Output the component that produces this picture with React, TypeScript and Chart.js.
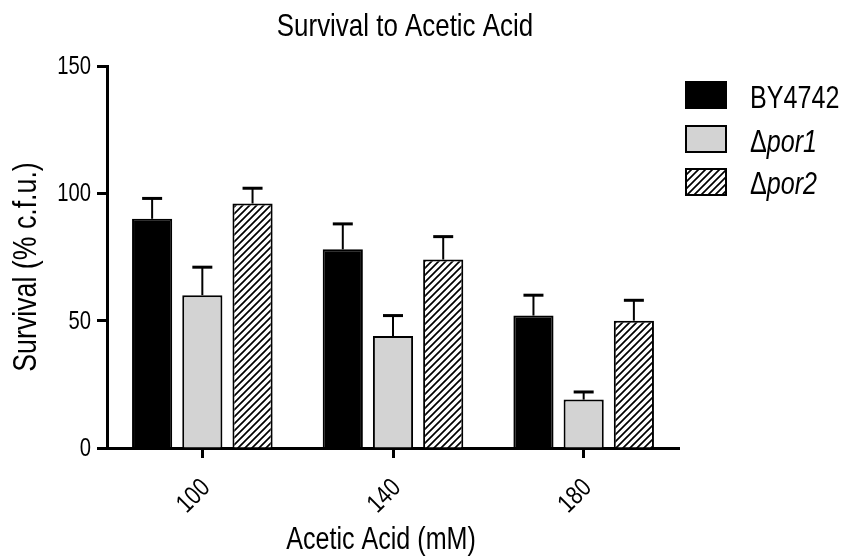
import React, { useEffect, useRef } from 'react';
import { Chart, registerables } from 'chart.js';
Chart.register(...registerables);

const categories = ['100', '140', '180'];
const seriesNames = ['BY4742', 'por1', 'por2'];
const by4742 = [90, 78, 52];
const by4742Err = [8, 10, 8];
const por1 = [60, 44, 19];
const por1Err = [11, 8, 3];
const por2 = [96, 74, 50];
const por2Err = [6, 9, 8];
const yTicks = [0, 50, 100, 150];
const chartTitle = 'Survival to Acetic Acid';
const xTitle = 'Acetic Acid (mM)';
const yTitle = 'Survival (% c.f.u.)';

const FONT = "'Liberation Sans', Arial, Helvetica, sans-serif";
const SQUEEZE = 0.81;

function makeHatch(size: number, lw: number): CanvasPattern | string {
  const c = document.createElement('canvas');
  c.width = size;
  c.height = size;
  const g = c.getContext('2d');
  if (!g) return '#fff';
  g.fillStyle = '#fff';
  g.fillRect(0, 0, size, size);
  g.strokeStyle = '#000';
  g.lineWidth = lw;
  g.beginPath();
  g.moveTo(0, size);
  g.lineTo(size, 0);
  g.moveTo(-2, 2);
  g.lineTo(2, -2);
  g.moveTo(size - 2, size + 2);
  g.lineTo(size + 2, size - 2);
  g.stroke();
  const p = g.createPattern(c, 'repeat');
  return p || '#fff';
}

function narrowText(
  ctx: CanvasRenderingContext2D,
  text: string,
  x: number,
  y: number,
  size: number,
  align: CanvasTextAlign,
  baseline: CanvasTextBaseline,
  angle = 0,
  italic = false
) {
  ctx.save();
  ctx.translate(x, y);
  if (angle) ctx.rotate(angle);
  ctx.scale(SQUEEZE, 1);
  ctx.font = `${italic ? 'italic ' : ''}${size}px ${FONT}`;
  ctx.textAlign = align;
  ctx.textBaseline = baseline;
  ctx.fillStyle = '#000';
  ctx.fillText(text, 0, 0);
  const w = ctx.measureText(text).width * SQUEEZE;
  ctx.restore();
  return w;
}

export default function App() {
  const ref = useRef<HTMLCanvasElement>(null);
  useEffect(() => {
    if (!ref.current) return;
    const hatch = makeHatch(7, 1.7);
    const errs = [by4742Err, por1Err, por2Err];
    const fills: any[] = ['#000000', '#d3d3d3', hatch];

    const errorBars = {
      id: 'errorBars',
      afterDatasetsDraw(chart: any) {
        const ctx = chart.ctx;
        const ys = chart.scales.y;
        chart.data.datasets.forEach((ds: any, i: number) => {
          const meta = chart.getDatasetMeta(i);
          meta.data.forEach((bar: any, j: number) => {
            const v = ds.data[j] as number;
            const top = ys.getPixelForValue(v + errs[i][j]);
            ctx.save();
            ctx.strokeStyle = '#000';
            ctx.lineWidth = 2;
            ctx.beginPath();
            ctx.moveTo(bar.x, bar.y);
            ctx.lineTo(bar.x, top);
            ctx.stroke();
            ctx.lineWidth = 3;
            ctx.beginPath();
            ctx.moveTo(bar.x - 10, top);
            ctx.lineTo(bar.x + 10, top);
            ctx.stroke();
            ctx.restore();
          });
        });
      },
    };

    const texts = {
      id: 'texts',
      afterDraw(chart: any) {
        const ctx = chart.ctx as CanvasRenderingContext2D;
        const xs = chart.scales.x;
        const ys = chart.scales.y;
        const area = chart.chartArea;
        narrowText(ctx, chartTitle, 405, 36, 32, 'center', 'alphabetic');
        yTicks.forEach((v) => {
          narrowText(ctx, String(v), area.left - 16, ys.getPixelForValue(v) + 1, 25, 'right', 'middle');
        });
        categories.forEach((c, i) => {
          narrowText(ctx, c, xs.getPixelForValue(i) + 4, area.bottom + 36, 26, 'right', 'middle', -Math.PI / 4);
        });
        narrowText(ctx, xTitle, 381, 549, 31, 'center', 'alphabetic');
        narrowText(ctx, yTitle, 36, 267, 33, 'center', 'alphabetic', -Math.PI / 2);
        const boxX = 686;
        const tops = [82, 126, 169];
        const baselines = [108, 152, 194];
        tops.forEach((t, i) => {
          ctx.save();
          ctx.fillStyle = fills[i];
          ctx.fillRect(boxX, t, 40, 26);
          ctx.strokeStyle = '#000';
          ctx.lineWidth = 2;
          ctx.strokeRect(boxX, t, 40, 26);
          ctx.restore();
          if (i === 0) {
            narrowText(ctx, seriesNames[i], 750, baselines[i], 31, 'left', 'alphabetic');
          } else {
            const w = narrowText(ctx, '\u0394', 750, baselines[i], 31, 'left', 'alphabetic');
            narrowText(ctx, seriesNames[i], 750 + w, baselines[i], 31, 'left', 'alphabetic', 0, true);
          }
        });
      },
    };

    const chart = new Chart(ref.current, {
      type: 'bar',
      data: {
        labels: categories,
        datasets: [
          { label: seriesNames[0], data: by4742, backgroundColor: fills[0], borderColor: '#000', borderWidth: 2 },
          { label: seriesNames[1], data: por1, backgroundColor: fills[1], borderColor: '#000', borderWidth: 2 },
          { label: seriesNames[2], data: por2, backgroundColor: fills[2], borderColor: '#000', borderWidth: 2 },
        ],
      },
      options: {
        responsive: false,
        animation: false,
        layout: { padding: { top: 66, right: 167, left: 0, bottom: 0 } },
        datasets: { bar: { categoryPercentage: 0.79, barPercentage: 0.8 } },
        plugins: { legend: { display: false }, title: { display: false }, tooltip: { enabled: false } },
        scales: {
          x: {
            afterFit: (s: any) => { s.height = 110; },
            border: { display: true, width: 3, color: '#000' },
            grid: { display: true, offset: false, drawOnChartArea: false, drawTicks: true, tickLength: 10, tickWidth: 3, tickColor: '#000', color: '#000' },
            ticks: { display: false },
            title: { display: false },
          },
          y: {
            min: 0,
            max: 150,
            afterFit: (s: any) => { s.width = 107; },
            afterBuildTicks: (s: any) => { s.ticks = yTicks.map((v) => ({ value: v })); },
            border: { display: true, width: 3, color: '#000' },
            grid: { display: true, drawOnChartArea: false, drawTicks: true, tickLength: 10, tickWidth: 3, tickColor: '#000', color: '#000' },
            ticks: { display: false },
            title: { display: false },
          },
        },
      },
      plugins: [errorBars, texts],
    });
    return () => chart.destroy();
  }, []);
  return (
    <div style={{ position: 'fixed', left: 0, top: 0, width: 846, height: 558, background: '#fff' }}>
      <canvas ref={ref} width={846} height={558} />
    </div>
  );
}
